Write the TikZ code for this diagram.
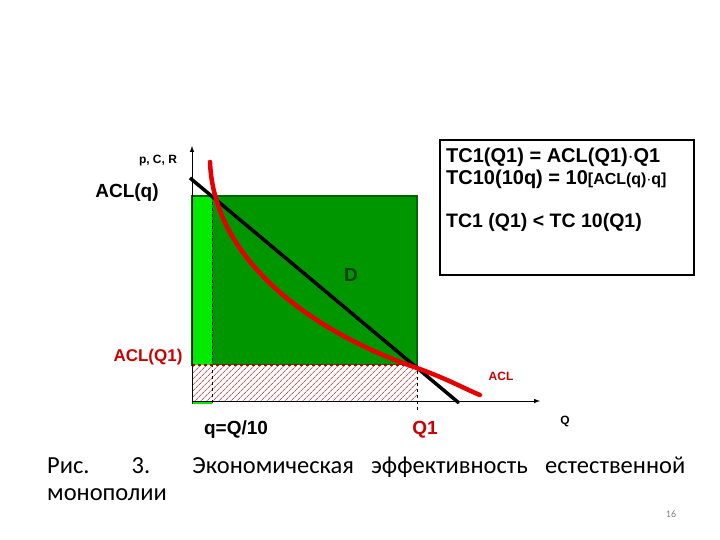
\documentclass[tikz,border=0pt]{standalone}
\usepackage{fontspec}
\setmainfont{Liberation Sans}
\newfontfamily\capfont{Carlito}
\usetikzlibrary{patterns.meta}
\definecolor{darkgr}{RGB}{0,150,0}
\definecolor{edgegr}{RGB}{0,100,0}
\definecolor{litegr}{RGB}{0,235,0}
\definecolor{acl}{RGB}{230,0,0}
\definecolor{acltext}{RGB}{204,0,0}
\definecolor{dtext}{RGB}{0,60,0}
\begin{document}
\begin{tikzpicture}[x=1pt, y=-1pt,
    lbl/.style={inner sep=0pt, font=\bfseries\fontsize{19}{22}\selectfont},
    small/.style={inner sep=0pt, font=\bfseries\fontsize{12}{14}\selectfont},
    boxline/.style={anchor=base west, inner sep=0pt, font=\bfseries\fontsize{20}{22}\selectfont},
    axis/.style={line width=1pt, -latex},
    demand/.style={line width=3.5pt, black},
    curve/.style={line width=4.5pt, acl, line cap=round},
]
\useasboundingbox (0,0) rectangle (720,540);

% areas
\filldraw[fill=darkgr, draw=edgegr, line width=1.2pt] (192,196) rectangle (417,365);
\fill[litegr] (192,197) rectangle (212,365);
\fill[litegr] (192,400) rectangle (212,404);
\fill[white] (192,365) rectangle (417,401);
\fill[pattern={Lines[angle=45, distance=4pt, line width=0.5pt]}, pattern color=acl!75!black] (192,365) rectangle (417,401);

% guides
\draw[dashed, line width=0.8pt] (212,196) -- (212,405);
\draw[dashed, line width=1.2pt, acl!80!black] (192,365) -- (417,365);
\draw[dashed, line width=0.8pt] (417,365) -- (417,410);

% axes
\coordinate (O) at (192,401);
\coordinate (ytop) at (192,146);
\coordinate (xend) at (540,401);
\draw[axis] (192,404) -- (ytop);
\draw[axis] (O) -- (xend);

% demand and ACL
\coordinate (d1) at (190,178);
\coordinate (d2) at (459,403);
\draw[demand] (d1) -- (d2);
\coordinate (c0) at (210,162);
\coordinate (c1) at (417,368);
\coordinate (c2) at (480,395);
\draw[curve] (c0) .. controls (214,265) and (320,335) .. (c1)
             .. controls (450,380) and (465,389) .. (c2);

% labels
\node[small] (pcr) at (158,161) {p, C, R};
\node[lbl] (aclq) at (127,193) {ACL(q)};
\node[lbl, acltext, font=\bfseries\fontsize{17}{20}\selectfont] (aclq1) at (148,357) {ACL(Q1)};
\node[lbl, dtext] (d) at (351,275) {D};
\node[small, acltext] (aclname) at (501,376) {ACL};
\node[small] (qax) at (565,421) {Q};
\node[lbl] (qsmall) at (236,430) {q=Q/10};
\node[lbl, acltext] (q1) at (425,430) {Q1};

% box
\node[draw, line width=1.5pt, minimum width=254pt, minimum height=135pt] (box) at (567,207.5) {};
\node[boxline] (tc1) at (446,163) {TC1(Q1) = ACL(Q1)$\cdot$Q1};
\node[boxline] (tc10) at (446,185) {TC10(10q) = 10{\fontsize{16}{20}\selectfont[ACL(q)$\cdot$q]}};
\node[boxline, font=\bfseries\fontsize{19.5}{22}\selectfont] (ineq) at (446,228) {TC1 (Q1) < TC 10(Q1)};

% caption
\node[anchor=base west, inner sep=0pt, align=left, font=\capfont\fontsize{24.5}{27}\selectfont] (cap) at (47,500)
  {\makebox[638pt][s]{Рис. 3. Экономическая эффективность естественной}\\монополии};
\node[inner sep=0pt, gray, font=\capfont\fontsize{10}{12}\selectfont] (page) at (671,514) {16};
\end{tikzpicture}
\end{document}
